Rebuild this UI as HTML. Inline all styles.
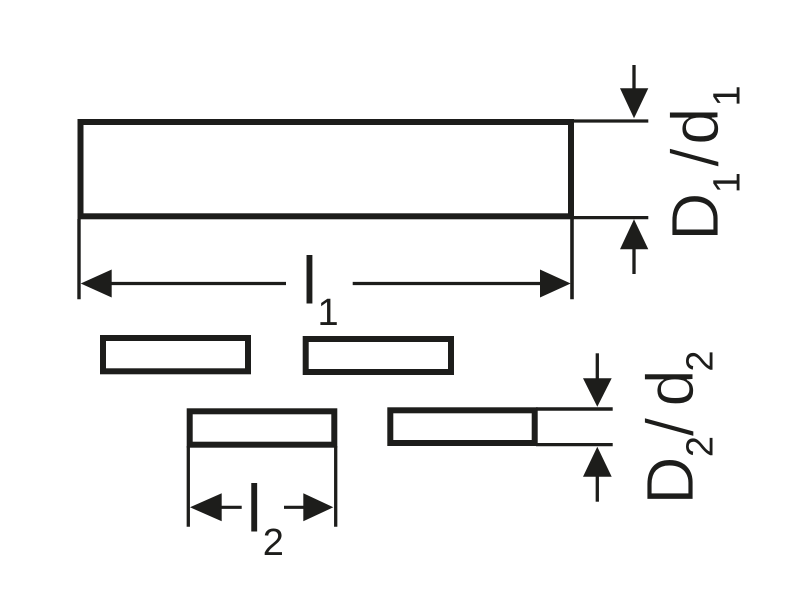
<!DOCTYPE html>
<html><head><meta charset="utf-8"><style>
html,body{margin:0;padding:0;background:#fff;}
svg{display:block;}
text{font-family:"Liberation Sans",sans-serif;fill:#1d1d1b;}
.thin{stroke:#fff;stroke-width:0.8px;}
</style></head><body>
<svg width="800" height="615" viewBox="0 0 800 615" xmlns="http://www.w3.org/2000/svg">
<g fill="none" stroke="#1d1d1b">
  <!-- big rect -->
  <rect x="80.5" y="122" width="490.5" height="94.3" stroke-width="6"/>
  <!-- small rects -->
  <rect x="103" y="338" width="145" height="33.3" stroke-width="6"/>
  <rect x="305.7" y="339" width="145.3" height="33" stroke-width="6"/>
  <rect x="189.7" y="411.3" width="144.6" height="33.4" stroke-width="6"/>
  <rect x="390.3" y="410.3" width="144.4" height="32.7" stroke-width="6"/>

  <!-- l1 extension lines -->
  <line x1="79" y1="219" x2="79" y2="299.3" stroke-width="3.4"/>
  <line x1="572" y1="219" x2="572" y2="299.3" stroke-width="3.6"/>
  <!-- l1 dimension line -->
  <line x1="110" y1="283.5" x2="286" y2="283.5" stroke-width="3.2"/>
  <line x1="352.7" y1="283.5" x2="542" y2="283.5" stroke-width="3.2"/>

  <!-- D1 extension lines -->
  <line x1="572" y1="121" x2="648.3" y2="121" stroke-width="3.3"/>
  <line x1="572" y1="217.6" x2="648.3" y2="217.6" stroke-width="3.3"/>
  <!-- D1 arrows shafts -->
  <line x1="634" y1="65" x2="634" y2="90" stroke-width="3.3"/>
  <line x1="634" y1="248" x2="634" y2="274" stroke-width="3.3"/>

  <!-- l2 extension lines -->
  <line x1="188.3" y1="446" x2="188.3" y2="526.7" stroke-width="3.3"/>
  <line x1="335.7" y1="446" x2="335.7" y2="526.7" stroke-width="3.3"/>
  <!-- l2 dimension line -->
  <line x1="220" y1="507.3" x2="241.7" y2="507.3" stroke-width="3.2"/>
  <line x1="284" y1="507.3" x2="305" y2="507.3" stroke-width="3.2"/>

  <!-- D2 extension lines -->
  <line x1="536" y1="409" x2="612.7" y2="409" stroke-width="3.4"/>
  <line x1="536" y1="444.6" x2="612.7" y2="444.6" stroke-width="3.2"/>
  <!-- D2 arrow shafts -->
  <line x1="597.3" y1="353.3" x2="597.3" y2="380" stroke-width="3.3"/>
  <line x1="597.3" y1="475" x2="597.3" y2="501.7" stroke-width="3.3"/>
</g>
<g fill="#1d1d1b" stroke="none">
  <!-- l1 arrowheads -->
  <polygon points="80.7,283.5 111.7,269.5 111.7,297.5"/>
  <polygon points="570.7,283.5 540,269.5 540,297.5"/>
  <!-- D1 arrowheads -->
  <polygon points="634,118.3 620,88.3 648.3,88.3"/>
  <polygon points="634,219.3 620,249.3 648.3,249.3"/>
  <!-- l2 arrowheads -->
  <polygon points="190,507.3 221.7,493.3 221.7,521.3"/>
  <polygon points="333.3,507.3 303.3,493.3 303.3,521.3"/>
  <!-- D2 arrowheads -->
  <polygon points="597.3,406.7 583,378.3 611.7,378.3"/>
  <polygon points="597.3,446.7 583,476.7 611.7,476.7"/>
</g>

<!-- l1 label -->
<text x="309.5" y="303.3" font-size="67" text-anchor="middle">l</text>
<text x="317.5" y="325" font-size="38">1</text>

<!-- l2 label -->
<text x="254.2" y="531.7" font-size="67" text-anchor="middle">l</text>
<text x="273.3" y="555" font-size="38" text-anchor="middle">2</text>

<!-- D1/d1 label (rotated) -->
<g transform="translate(718,0) rotate(-90)">
  <text class="thin" x="-216.7" y="0" font-size="67" text-anchor="middle">D</text>
  <text x="-193.2" y="21.3" font-size="38">1</text>
  <text class="thin" x="-157.5" y="0" font-size="67" text-anchor="middle">/</text>
  <text class="thin" x="-126.2" y="0" font-size="67" text-anchor="middle">d</text>
  <text x="-106.5" y="21.3" font-size="38">1</text>
</g>

<!-- D2/d2 label (rotated) -->
<g transform="translate(693,0) rotate(-90)">
  <text class="thin" x="-480.5" y="0" font-size="67" text-anchor="middle">D</text>
  <text x="-446.5" y="19.3" font-size="38" text-anchor="middle">2</text>
  <text class="thin" x="-427" y="0" font-size="67" text-anchor="middle">/</text>
  <text class="thin" x="-388" y="0" font-size="67" text-anchor="middle">d</text>
  <text x="-361" y="19.3" font-size="38" text-anchor="middle">2</text>
</g>
</svg>
</body></html>
